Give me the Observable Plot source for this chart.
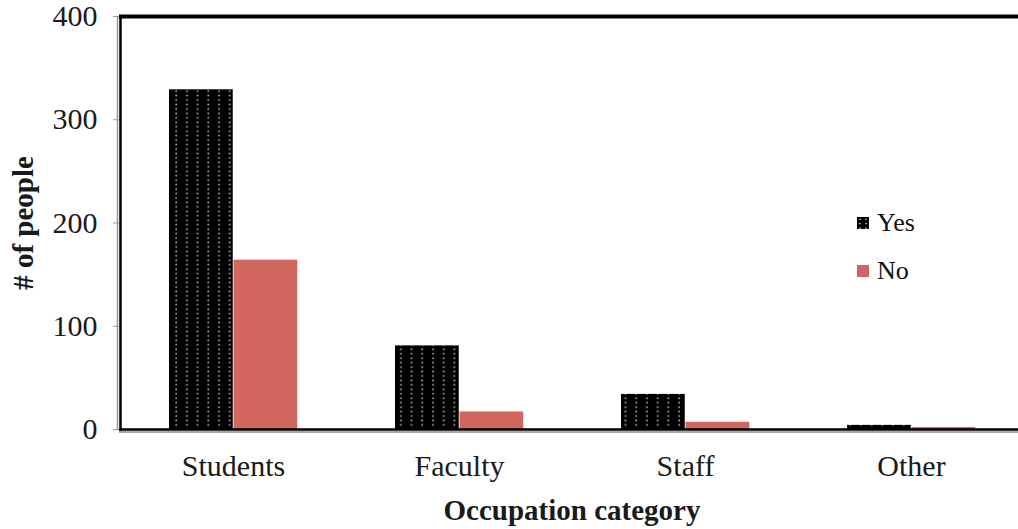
<!DOCTYPE html>
<html>
<head>
<meta charset="utf-8">
<script src="https://cdn.jsdelivr.net/npm/d3@7"></script>
<script src="https://cdn.jsdelivr.net/npm/@observablehq/plot@0.6"></script>
<style>
  html, body { margin: 0; padding: 0; background: #fff; }
  #wrap { position: relative; width: 1018px; height: 529px; overflow: hidden; font-family: "Liberation Serif", serif; }
  #legend { position: absolute; left: 857px; top: 206px; font-size: 26px; color: #111; }
  .item { display: flex; align-items: center; height: 34px; margin-bottom: 14px; }
  .sw { width: 12px; height: 12px; margin-right: 8px; }
</style>
</head>
<body>
<div id="wrap"></div>
<script>
const categories = ["Students", "Faculty", "Staff", "Other"];
const series = ["Yes", "No"];
const yesValues = [329, 81, 34, 4];
const noValues = [164, 17, 7, 2];
const yTicks = [0, 100, 200, 300, 400];
const xLabel = "Occupation category";
const yLabel = "# of people";
const colors = {Yes: "url(#dots)", No: "#D1665E"};

const yesData = categories.map((c, i) => ({category: c, series: "Yes", value: yesValues[i]}));
const noData = categories.map((c, i) => ({category: c, series: "No", value: noValues[i]}));

const font = "Liberation Serif";

const plot = Plot.plot({
  width: 1018,
  height: 529,
  marginLeft: 119,
  marginRight: 0,
  marginTop: 16,
  marginBottom: 100,
  style: {fontFamily: font, background: "white", overflow: "visible"},
  x: {domain: categories, range: [119, 1025], padding: 0, axis: null},
  y: {domain: [0, 400], axis: null},
  marks: [
    Plot.barY(yesData, {x: "category", y: "value", fill: colors.Yes, insetLeft: 49, insetRight: 113.25}),
    Plot.barY(noData, {x: "category", y: "value", fill: colors.No, insetLeft: 113.5, insetRight: 48.75}),
    Plot.axisX({tickSize: 0, tickPadding: 25, fontSize: 30, fill: "#1a1a1a", label: null}),
    Plot.axisY({ticks: yTicks, tickSize: 6, tickPadding: 16, stroke: "#999", fill: "#1a1a1a", fontSize: 30, label: null}),
    Plot.ruleY([0], {stroke: "#888", strokeWidth: 1.5, dy: 2.5}),
    Plot.ruleY([0], {stroke: "black", strokeWidth: 2.5}),
    Plot.ruleY([400], {stroke: "black", strokeWidth: 4}),
    Plot.frame({anchor: "left", stroke: "#999", strokeWidth: 1.5, dx: -2}),
    Plot.frame({anchor: "left", stroke: "black", strokeWidth: 2.5, dx: 1}),
    Plot.text([xLabel], {frameAnchor: "bottom", dy: 90, dx: 3, fontSize: 29, fontWeight: "bold", fill: "#1a1a1a"}),
    Plot.text([yLabel], {frameAnchor: "left", textAnchor: "middle", rotate: -90, dx: -96, fontSize: 29, fontWeight: "bold", fill: "#1a1a1a"})
  ]
});

// dotted pattern for "Yes" bars
const svg = d3.select(plot);
const defs = svg.insert("defs", ":first-child");
const pat = defs.append("pattern").attr("id", "dots").attr("patternUnits", "userSpaceOnUse")
  .attr("width", 10.7).attr("height", 4.45);
pat.append("rect").attr("width", 10.7).attr("height", 4.45).attr("fill", "black");
pat.append("circle").attr("cx", 5).attr("cy", 2.2).attr("r", 0.8).attr("fill", "#e0e0e0");

const wrap = document.getElementById("wrap");
wrap.appendChild(plot);

const legend = document.createElement("div");
legend.id = "legend";
series.forEach(s => {
  const item = document.createElement("div");
  item.className = "item";
  const sw = document.createElement("div");
  sw.className = "sw";
  if (s === "Yes") {
    sw.style.background = "black";
    sw.style.backgroundImage = "radial-gradient(circle, #ddd 0.8px, transparent 1px)";
    sw.style.backgroundSize = "6px 4.5px";
  } else {
    sw.style.background = colors[s];
  }
  const t = document.createElement("span");
  t.textContent = s;
  item.appendChild(sw);
  item.appendChild(t);
  legend.appendChild(item);
});
wrap.appendChild(legend);
</script>
</body>
</html>
